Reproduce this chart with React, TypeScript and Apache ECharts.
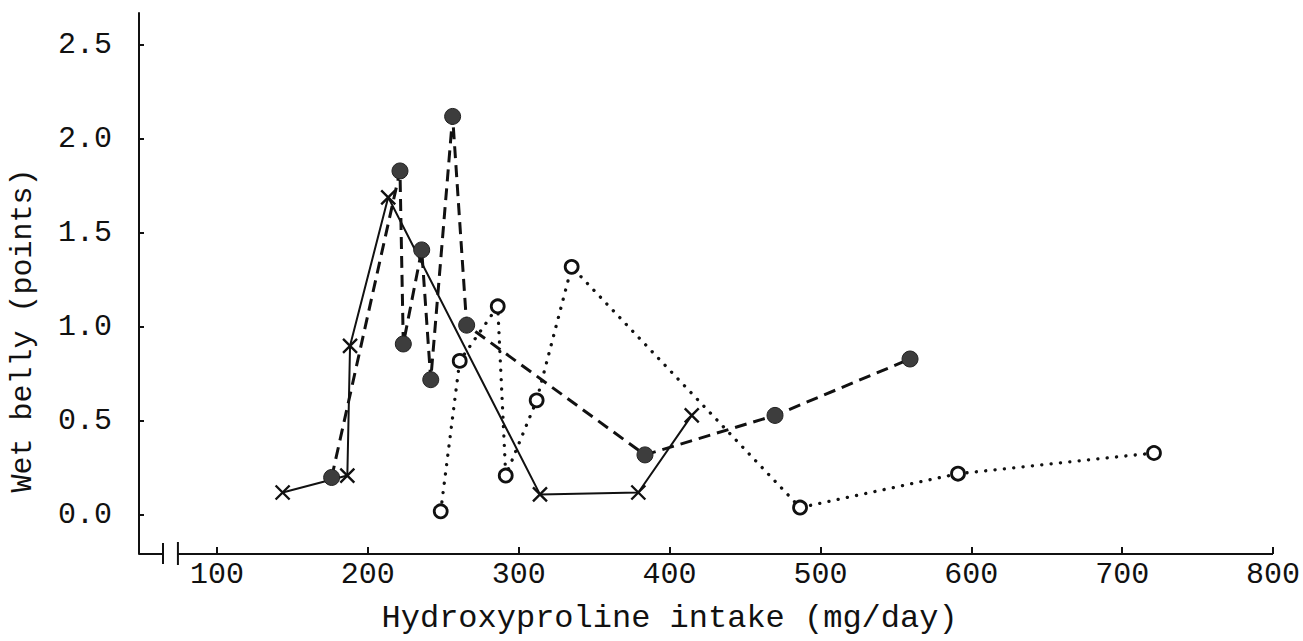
import React, { useEffect, useRef } from "react";
import * as echarts from "echarts";

// Hydroxyproline intake (mg/day) vs wet belly (points)
const crossX = [143.5, 186.4, 188.2, 213.5, 314.1, 379.3, 414.7];
const crossY = [0.12, 0.21, 0.9, 1.69, 0.11, 0.12, 0.53];

const filledX = [176.0, 221.3, 223.5, 235.7, 241.7, 256.2, 265.5, 383.7, 469.9, 559.4];
const filledY = [0.2, 1.83, 0.91, 1.41, 0.72, 2.12, 1.01, 0.32, 0.53, 0.83];

const openX = [248.3, 260.9, 286.1, 291.4, 311.9, 335.1, 486.5, 591.2, 721.1];
const openY = [0.02, 0.82, 1.11, 0.21, 0.61, 1.32, 0.04, 0.22, 0.33];

const xTicks = [100, 200, 300, 400, 500, 600, 700, 800];
const yTicks = [0, 0.5, 1.0, 1.5, 2.0, 2.5];

const xTitle = "Hydroxyproline intake (mg/day)";
const yTitle = "Wet belly (points)";

const X_MIN = 48.3;
const X_MAX = 800;
const Y_MIN = -0.207;
const Y_MAX = 2.67;
const BREAK_A = 64.2;
const BREAK_B = 74.1;

const FONT = "'Liberation Mono', 'DejaVu Sans Mono', monospace";
const INK = "#111";

const zip = (xs: number[], ys: number[]) => xs.map((x, i) => [x, ys[i]]);

export default function App() {
  const ref = useRef<HTMLDivElement>(null);

  useEffect(() => {
    if (!ref.current) return;
    const chart = echarts.init(ref.current, null, { renderer: "svg" });
    const option: any = {
      animation: false,
      backgroundColor: "#fff",
      grid: { left: 139, right: 30, top: 13, bottom: 87, containLabel: false },
      xAxis: {
        type: "value",
        min: X_MIN,
        max: X_MAX,
        axisLine: { show: false, onZero: false },
        splitLine: { show: false },
        axisTick: {
          show: true,
          inside: true,
          length: 7,
          customValues: xTicks,
          lineStyle: { color: INK, width: 2 },
        },
        axisLabel: {
          customValues: xTicks,
          formatter: (v: number) => String(Math.round(v)),
          fontFamily: FONT,
          fontSize: 30,
          color: INK,
          margin: 6,
        },
      },
      yAxis: {
        type: "value",
        min: Y_MIN,
        max: Y_MAX,
        axisLine: { show: true, onZero: false, lineStyle: { color: INK, width: 2 } },
        splitLine: { show: false },
        axisTick: {
          show: true,
          inside: true,
          length: 5,
          customValues: yTicks,
          lineStyle: { color: INK, width: 2 },
        },
        axisLabel: {
          customValues: yTicks,
          formatter: (v: number) => v.toFixed(1),
          fontFamily: FONT,
          fontSize: 30,
          color: INK,
          margin: 27,
          padding: [10, 0, 0, 0],
        },
      },
      series: [
        {
          name: "cross",
          type: "line",
          data: zip(crossX, crossY),
          symbol: "path://M0,0L20,20M20,0L0,20",
          symbolSize: 14,
          itemStyle: { color: "transparent", borderColor: INK, borderWidth: 2.4 },
          lineStyle: { color: INK, width: 2, type: "solid" },
          z: 3,
        },
        {
          name: "filled",
          type: "line",
          data: zip(filledX, filledY),
          symbol: "circle",
          symbolSize: 16,
          itemStyle: { color: "#3d3d3d", borderColor: "#222", borderWidth: 1 },
          lineStyle: { color: INK, width: 3, type: [12, 7] },
          z: 4,
        },
        {
          name: "open",
          type: "line",
          data: zip(openX, openY),
          symbol: "circle",
          symbolSize: 13,
          itemStyle: { color: "#fff", borderColor: INK, borderWidth: 2.8 },
          lineStyle: { color: INK, width: 3.3, type: [0.1, 9.3], cap: "round" },
          z: 5,
        },
      ],
    };
    chart.setOption(option);

    const px = (x: number, y: number) =>
      chart.convertToPixel({ gridIndex: 0 }, [x, y]) as number[];
    const o = px(X_MIN, Y_MIN);
    const a = px(BREAK_A, Y_MIN);
    const b = px(BREAK_B, Y_MIN);
    const e = px(X_MAX, Y_MIN);
    const titleAnchor = px(400, Y_MIN);
    const yMid = px(X_MIN, (Y_MIN + Y_MAX) / 2);
    const lineStyle = { stroke: INK, lineWidth: 2 };

    chart.setOption({
      graphic: [
        { type: "line", shape: { x1: o[0], y1: o[1], x2: a[0], y2: a[1] }, style: lineStyle },
        { type: "line", shape: { x1: a[0], y1: a[1] - 11, x2: a[0], y2: a[1] + 10 }, style: lineStyle },
        { type: "line", shape: { x1: b[0], y1: b[1] - 12, x2: b[0], y2: b[1] + 11 }, style: lineStyle },
        { type: "line", shape: { x1: b[0], y1: b[1], x2: e[0], y2: e[1] }, style: lineStyle },
        {
          type: "text",
          x: titleAnchor[0],
          y: o[1] + 64,
          style: {
            text: xTitle,
            font: `32px ${FONT}`,
            fill: INK,
            align: "center",
            verticalAlign: "middle",
          },
        },
        {
          type: "text",
          x: 23,
          y: yMid[1] + 47,
          rotation: Math.PI / 2,
          style: {
            text: yTitle,
            font: `30px ${FONT}`,
            fill: INK,
            align: "center",
            verticalAlign: "middle",
          },
        },
      ],
    });

    return () => chart.dispose();
  }, []);

  return (
    <div
      ref={ref}
      style={{ position: "fixed", left: 0, top: 0, width: 1303, height: 641, background: "#fff" }}
    />
  );
}
